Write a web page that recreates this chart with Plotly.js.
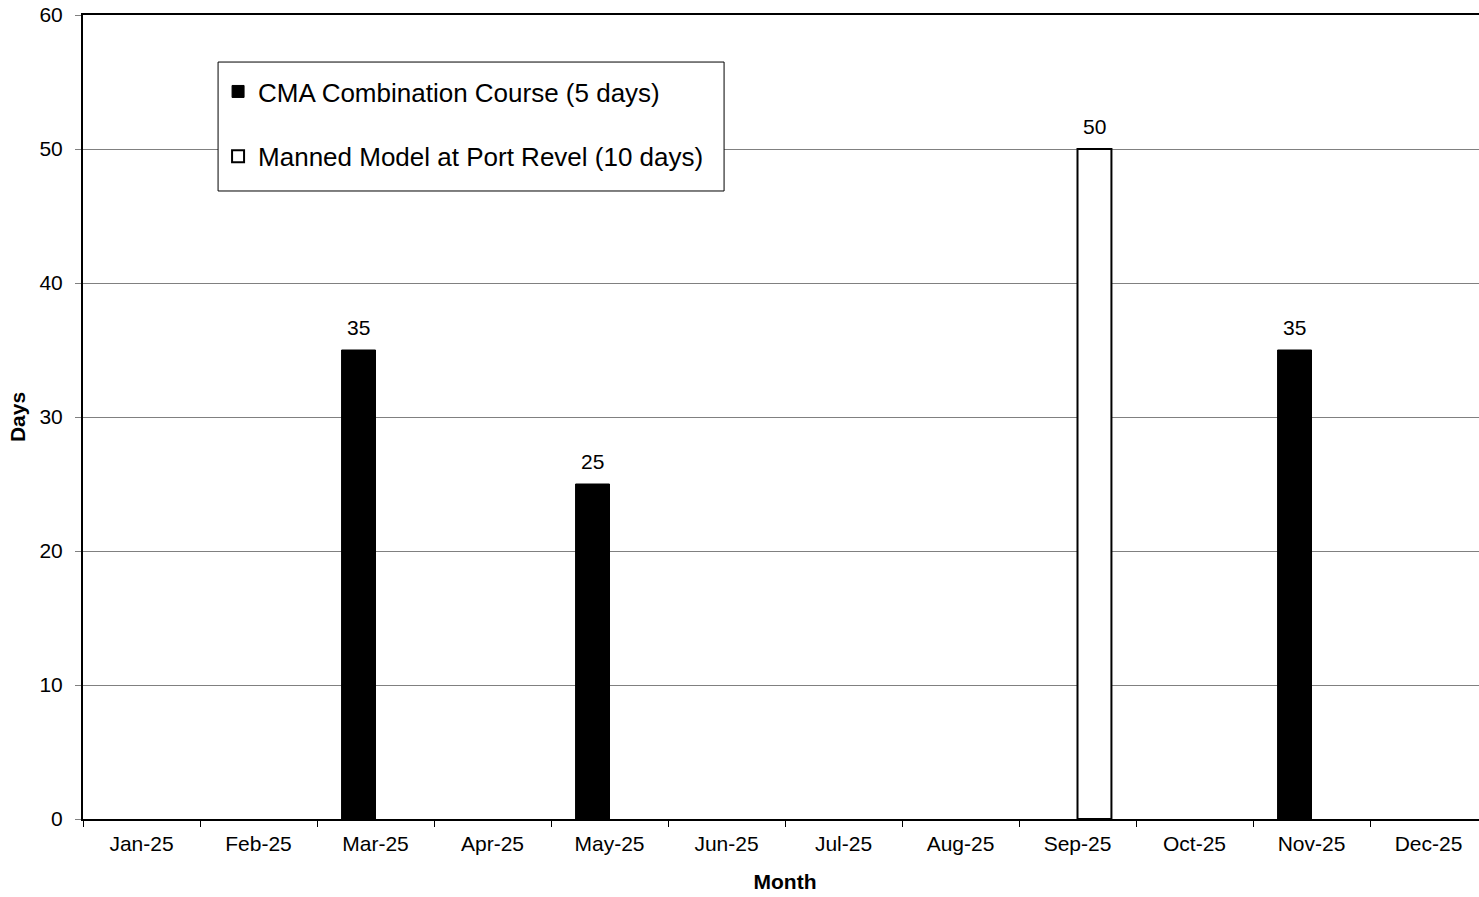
<!DOCTYPE html>
<html>
<head>
<meta charset="utf-8">
<script src="https://cdn.plot.ly/plotly-3.0.1.min.js"></script>
<style>
html, body { margin: 0; padding: 0; overflow: hidden; background: #fff; }
#chart { width: 1500px; height: 897px; }
</style>
</head>
<body>
<div id="chart"></div>
<script>
const months = ["Jan-25","Feb-25","Mar-25","Apr-25","May-25","Jun-25","Jul-25","Aug-25","Sep-25","Oct-25","Nov-25","Dec-25"];
const cmaDays = [null, null, 35, null, 25, null, null, null, null, null, 35, null];
const mannedDays = [null, null, null, null, null, null, null, null, 50, null, null, null];
const seriesNames = ["CMA Combination Course (5 days)", "Manned Model at Port Revel (10 days)"];
const yTicks = [0, 10, 20, 30, 40, 50, 60];

const FONT = "Liberation Sans, Arial, sans-serif";

const traces = [
  {
    type: "bar", name: seriesNames[0], x: months, y: cmaDays,
    marker: { color: "#000000", line: { color: "#000000", width: 1 } },
    legendgroup: "a", hoverinfo: "skip"
  },
  {
    type: "bar", name: seriesNames[1], x: months, y: mannedDays,
    marker: { color: "#ffffff", line: { color: "#000000", width: 2 } },
    legendgroup: "b", hoverinfo: "skip"
  }
];

const annotations = [];
[[cmaDays, -17], [mannedDays, 17]].forEach(([arr, dx]) => {
  arr.forEach((v, i) => {
    if (v !== null) {
      annotations.push({
        x: months[i], y: v, xref: "x", yref: "y", text: String(v),
        showarrow: false, yanchor: "bottom", yshift: 9, xshift: dx,
        font: { family: FONT, size: 21, color: "#000" }
      });
    }
  });
});

const layout = {
  width: 1500, height: 897,
  margin: { l: 83, r: 13, t: 15, b: 78 },
  paper_bgcolor: "#fff", plot_bgcolor: "#fff",
  barmode: "group", bargap: 0.42, bargroupgap: 0,
  font: { family: FONT, size: 21, color: "#000" },
  showlegend: true,
  legend: {
    x: 0.0962, y: 0.934, xanchor: "left", yanchor: "top",
    bgcolor: "rgba(0,0,0,0)", borderwidth: 0,
    font: { family: FONT, size: 26, color: "#000" },
    traceorder: "grouped", tracegroupgap: 28
  },
  shapes: [{
    type: "rect", xref: "paper", yref: "paper",
    x0: 0.0962, x1: 0.4566, y0: 0.7811, y1: 0.9415,
    fillcolor: "#fff", line: { color: "#000", width: 1 }, layer: "above"
  }],
  xaxis: {
    type: "category", categoryorder: "array", categoryarray: months,
    range: [-0.5, 11.5],
    showline: true, linecolor: "#000", linewidth: 2, mirror: true,
    ticks: "outside", tickson: "boundaries", ticklen: 6, tickcolor: "#000", tickwidth: 1,
    ticklabelstandoff: 5,
    tickfont: { family: FONT, size: 21, color: "#000" },
    showgrid: false, zeroline: false,
    title: { text: "<b>Month</b>", font: { family: FONT, size: 21, color: "#000" }, standoff: 20 }
  },
  yaxis: {
    range: [0, 60], tickvals: yTicks,
    showline: true, linecolor: "#000", linewidth: 2,
    ticks: "outside", ticklen: 6, tickcolor: "#808080", tickwidth: 1,
    ticklabelstandoff: 8,
    tickfont: { family: FONT, size: 21, color: "#000" },
    showgrid: true, gridcolor: "#808080", gridwidth: 1, zeroline: false,
    title: { text: "<b>Days</b>", font: { family: FONT, size: 21, color: "#000" }, standoff: 8 }
  },
  annotations: annotations
};

Plotly.newPlot("chart", traces, layout, { displayModeBar: false, staticPlot: true });
</script>
</body>
</html>
